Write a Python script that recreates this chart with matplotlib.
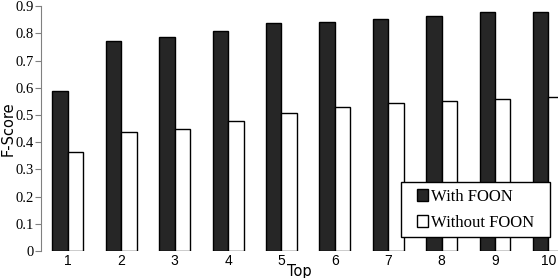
import matplotlib.pyplot as plt
from matplotlib.patches import Rectangle
import numpy as np

# --- dati ---
top_k = [1, 2, 3, 4, 5, 6, 7, 8, 9, 10]
with_foon = [0.587, 0.773, 0.788, 0.807, 0.839, 0.843, 0.854, 0.864, 0.879, 0.879]
without_foon = [0.365, 0.439, 0.450, 0.479, 0.507, 0.529, 0.545, 0.551, 0.558, 0.565]
y_ticks = [0, 0.1, 0.2, 0.3, 0.4, 0.5, 0.6, 0.7, 0.8, 0.9]
y_labels = ["0", "0.1", "0.2", "0.3", "0.4", "0.5", "0.6", "0.7", "0.8", "0.9"]

fig = plt.figure(figsize=(5.58, 2.78), dpi=100)
ax = fig.add_axes([0.0735, 0.097, 0.9265, 0.881])

x = np.array(top_k)
w = 0.29
ax.bar(x - w / 2, with_foon, w, color="#262626", edgecolor="black", linewidth=1, label="With FOON")
ax.bar(x + w / 2, without_foon, w, color="white", edgecolor="black", linewidth=1, label="Without FOON")

ax.set_xlim(0.495, 10.18)
ax.set_ylim(0, 0.9)

# assi
for s in ["top", "right", "bottom"]:
    ax.spines[s].set_visible(False)
ax.spines["left"].set_color("#808080")

ax.set_yticks(y_ticks)
ax.set_yticklabels(y_labels, family="Liberation Serif", fontsize=10.5)
ax.tick_params(axis="y", length=4, color="#808080", pad=1)
ax.set_xticks(x)
ax.set_xticklabels([str(t) for t in top_k], family="Liberation Sans", fontsize=10)
ax.tick_params(axis="x", length=0, pad=2)

ax.set_ylabel("F-Score", family="DejaVu Sans", fontsize=10.5)
ax.yaxis.set_label_coords(-0.049, 0.5)
ax.set_xlabel("Top", family="DejaVu Sans", fontsize=10.5, labelpad=-3)

# legenda: riquadro disegnato a parte (padding orizzontale più largo)
fig.patches.append(Rectangle((0.7186, 0.1475), 0.267, 0.198, transform=fig.transFigure,
                             facecolor="white", edgecolor="black", linewidth=1, zorder=5))
leg = fig.legend(loc="center left", bbox_to_anchor=(0.747, 0.246), bbox_transform=fig.transFigure,
                 prop={"family": "Liberation Serif", "size": 12}, frameon=False,
                 handlelength=0.7, handleheight=0.7, handletextpad=0.15,
                 borderpad=0, borderaxespad=0, labelspacing=0.6)
leg.set_zorder(6)

fig.savefig("out.png", dpi=100)
